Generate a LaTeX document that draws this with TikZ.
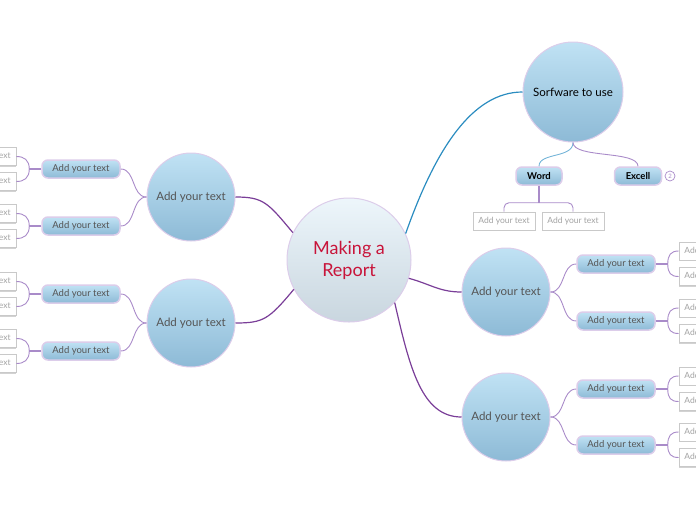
\documentclass[tikz,border=0pt]{standalone}
\usepackage{fontspec}
\setmainfont{Lato}
\usetikzlibrary{positioning, calc, shadows}

\definecolor{hubtext}{HTML}{C8143A}
\definecolor{hubtop}{HTML}{EDF6FB}
\definecolor{hubbot}{HTML}{C9D6DF}
\definecolor{rim}{HTML}{DCCDEA}
\definecolor{bubtop}{HTML}{C0E2F4}
\definecolor{bubbot}{HTML}{8DBAD6}
\definecolor{mainlink}{HTML}{7A3E98}
\definecolor{twiglink}{HTML}{A98BC9}
\definecolor{bluelink}{HTML}{2A8CC0}
\definecolor{skylink}{HTML}{74B4D8}
\definecolor{leafline}{HTML}{C9C9C9}
\definecolor{leaftext}{HTML}{A3A3A3}
\definecolor{bubtext}{HTML}{555555}

\begin{document}
\begin{tikzpicture}[
  x=1pt, y=-1pt,
  hub/.style={circle, draw=rim, line width=1pt, top color=hubtop,
    bottom color=hubbot, minimum size=124pt, inner sep=0pt, align=center,
    font=\fontsize{18}{22}\selectfont, text=hubtext},
  bubble/.style={circle, draw=rim, line width=1pt, top color=bubtop,
    bottom color=bubbot, minimum size=88pt, inner sep=0pt,
    font=\fontsize{11.5}{14}\selectfont, text=bubtext},
  pill/.style={rectangle, rounded corners=6pt, draw=rim, line width=1.5pt,
    top color=bubtop, bottom color=bubbot, minimum width=78pt,
    minimum height=18pt, inner sep=0pt,
    font=\fontsize{9.5}{11}\selectfont, text=bubtext},
  tool/.style={pill, minimum width=46pt, text=black,
    font=\fontsize{9.5}{11}\selectfont\bfseries},
  leaf/.style={rectangle, draw=leafline, fill=white, line width=0.6pt,
    minimum width=62pt, minimum height=18pt, inner sep=0pt,
    font=\fontsize{8.5}{10}\selectfont, text=leaftext,
    drop shadow={shadow xshift=0pt, shadow yshift=-1.3pt, fill=black!35}},
  link/.style={mainlink, line width=1.2pt},
  twig/.style={twiglink, line width=0.9pt},
]
\clip (0,0) rectangle (696,520);
% ====== CENTRE ======
\node[hub] (hub) at (349,260) {Making a\\Report};
%
% ====== SOFTWARE BRANCH ======
\node[bubble, minimum size=100pt, text=black, font=\fontsize{11.5}{13}\selectfont]
  (soft) at (573,92) {Sorfware to use};
\node[tool] (word) at (539,176) {Word};
\node[tool, minimum width=47pt] (excel) at (638,176) {Excell};
\node[circle, draw=twiglink, line width=0.7pt, inner sep=0pt, minimum size=10pt,
  font=\fontsize{6}{6}\selectfont, text=twiglink] (count) at (670,176) {2};
\node[leaf] (w1) at (504,221) {Add your text};
\node[leaf] (w2) at (573,221) {Add your text};
\draw[bluelink, line width=1.2pt] (hub.25) .. controls +(30,-85) and +(-50,0) .. (soft.west);
\draw[skylink, line width=0.9pt] (soft.south) .. controls +(0,16) and +(0,-14) .. (word.north);
\draw[twig] (soft.south) .. controls +(0,16) and +(0,-16) .. (excel.north);
\draw[twig, line width=1.2pt] (word.south) -- ++(0,17) coordinate (wj);
\draw[twig, rounded corners=5pt] (wj) -| (w1.north);
\draw[twig, rounded corners=5pt] (wj) -| (w2.north);
%
% ====== LEFT BRANCHES ======
\node[bubble] (bl1) at (191,197) {Add your text};
\node[bubble] (bl2) at (191,323) {Add your text};
\draw[link] (hub.154) .. controls +(-25,-30) and +(28,0) .. (bl1.east);
\draw[link] (hub.208) .. controls +(-25,30) and +(28,0) .. (bl2.east);
\foreach \i/\y/\b in {1/169/bl1, 2/226/bl1, 3/294/bl2, 4/351/bl2} {
  \node[pill] (pl\i) at (81,\y) {Add your text};
  \node[leaf] (ll\i a) at (-15,\y-12.5) {Add your text};
  \node[leaf] (ll\i b) at (-15,\y+12.5) {Add your text};
  \draw[twig] (\b.west) .. controls +(-15,0) and +(15,0) .. (pl\i.east);
  \draw[twig, line width=1.2pt] (pl\i.west) -- ++(-12,0) coordinate (jl\i);
  \draw[twig] (jl\i) .. controls +(0,-9) and +(8,0) .. (ll\i a.east);
  \draw[twig] (jl\i) .. controls +(0,9) and +(8,0) .. (ll\i b.east);
}
%
% ====== RIGHT BRANCHES ======
\node[bubble] (br1) at (506,292) {Add your text};
\node[bubble] (br2) at (506,417) {Add your text};
\draw[link] (hub.-17) .. controls +(22,6) and +(-22,0) .. (br1.west);
\draw[link] (hub.-43) .. controls +(15,65) and +(-40,0) .. (br2.west);
\foreach \i/\y/\b in {1/264/br1, 2/321/br1, 3/389/br2, 4/445/br2} {
  \node[pill] (pr\i) at (616,\y) {Add your text};
  \node[leaf] (lr\i a) at (710,\y-13) {Add your text};
  \node[leaf] (lr\i b) at (710,\y+12.5) {Add your text};
  \draw[twig] (\b.east) .. controls +(15,0) and +(-15,0) .. (pr\i.west);
  \draw[twig, line width=1.2pt] (pr\i.east) -- ++(12,0) coordinate (jr\i);
  \draw[twig] (jr\i) .. controls +(0,-9) and +(-8,0) .. (lr\i a.west);
  \draw[twig] (jr\i) .. controls +(0,9) and +(-8,0) .. (lr\i b.west);
}
\end{tikzpicture}
\end{document}
